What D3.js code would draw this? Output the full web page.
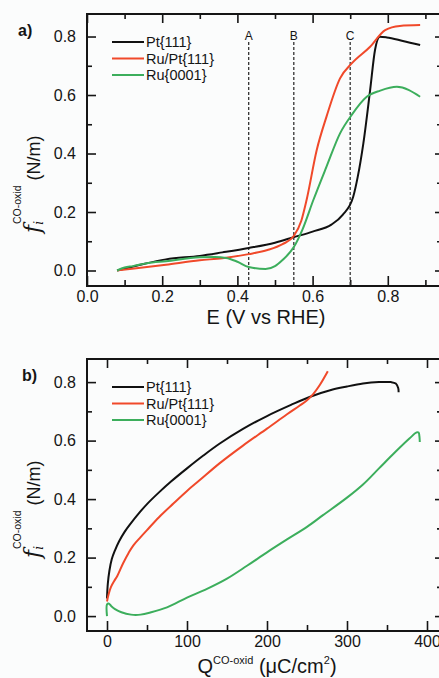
<!DOCTYPE html>
<html lang="en">
<head>
<meta charset="UTF-8">
<title>CO oxidation surface stress</title>
<script src="https://d3js.org/d3.v7.min.js"></script>
<style>
    *{margin:0;padding:0}
    body{background:#fbfcfc}
    text{font-family:"Liberation Sans",Arial,sans-serif;fill:#151515}
    .frame{fill:none;stroke:#151515;stroke-width:2}
    .tick line{stroke:#151515;stroke-width:1.6}
    .curve{fill:none;stroke-width:2;stroke-linejoin:round}
    .marker{stroke:#333;stroke-width:1.3;stroke-dasharray:3,2}
</style>
</head>
<body>
<svg id="fig" width="439" height="678"></svg>
<script>
    // legend
    var seriesNames = ['Pt{111}', 'Ru/Pt{111}', 'Ru{0001}'];
    var seriesColors = ['#111111', '#f0492a', '#3cae5c'];

    // a) stress vs potential, [E (V vs RHE), f (N/m)]
    var ptE = [[0.08,0.0],[0.1,0.006],[0.15,0.022],[0.21,0.038],[0.3,0.05],[0.36,0.062],[0.43,0.077],[0.5,0.095],
        [0.55,0.114],[0.6,0.133],[0.65,0.157],[0.68,0.19],[0.708,0.252],[0.72,0.32],[0.735,0.435],[0.753,0.617],
        [0.766,0.754],[0.779,0.799],[0.797,0.797],[0.84,0.785],[0.886,0.771]];
    var ruPtE = [[0.08,0.0],[0.12,0.006],[0.21,0.02],[0.3,0.035],[0.36,0.042],[0.43,0.056],[0.48,0.07],[0.52,0.09],
        [0.55,0.118],[0.57,0.17],[0.584,0.241],[0.611,0.412],[0.637,0.526],[0.673,0.657],[0.704,0.708],
        [0.753,0.765],[0.793,0.822],[0.832,0.836],[0.886,0.839]];
    var ruE = [[0.08,0.0],[0.1,0.01],[0.122,0.015],[0.16,0.025],[0.21,0.032],[0.3,0.045],[0.34,0.046],[0.37,0.043],
        [0.4,0.03],[0.43,0.012],[0.475,0.005],[0.5,0.015],[0.52,0.036],[0.55,0.08],[0.573,0.14],[0.602,0.241],
        [0.637,0.355],[0.673,0.469],[0.704,0.532],[0.744,0.594],[0.78,0.615],[0.824,0.628],[0.886,0.594]];
    var markerE = [0.43, 0.55, 0.70];
    var markerNames = ['A', 'B', 'C'];

    // b) stress vs charge, [Q (uC/cm2), f (N/m)]
    var ptQ = [[0,0.06],[1,0.11],[3,0.155],[6,0.195],[10,0.225],[15,0.255],[22,0.288],[30,0.318],[40,0.352],
        [50,0.383],[65,0.423],[80,0.46],[100,0.505],[120,0.548],[141,0.59],[170,0.64],[200,0.684],[230,0.722],
        [254,0.75],[280,0.773],[300,0.785],[320,0.795],[340,0.8],[355,0.8],[361,0.795],[364,0.78],[364.5,0.765]];
    var ruPtQ = [[0,0.05],[2,0.075],[5,0.1],[9,0.12],[13,0.138],[20,0.18],[27,0.216],[33,0.242],[42,0.27],
        [50,0.294],[65,0.338],[83,0.385],[100,0.428],[116,0.465],[141,0.523],[170,0.583],[200,0.641],[225,0.69],
        [241,0.72],[250,0.738],[258,0.76],[266,0.79],[276,0.837]];
    var ruQ = [[0,0.0],[0,0.04],[2,0.043],[5,0.035],[10,0.024],[18,0.013],[30,0.005],[42,0.005],[55,0.013],
        [75,0.03],[100,0.063],[125,0.093],[150,0.128],[175,0.172],[200,0.218],[225,0.262],[250,0.305],
        [270,0.345],[300,0.405],[320,0.45],[340,0.505],[360,0.56],[378,0.607],[387,0.628],[389.5,0.628],
        [390.5,0.615],[391,0.595]];

    var yMajor = [0, 0.2, 0.4, 0.6, 0.8];
    var yMinor = [0.1, 0.3, 0.5, 0.7];
    var eMajor = [0, 0.2, 0.4, 0.6, 0.8];
    var eMinor = [0.1, 0.3, 0.5, 0.7, 0.9];
    var qMajor = [0, 100, 200, 300, 400];
    var qMinor = [50, 150, 250, 350];

    var svg = d3.select('#fig');

    function drawPanel(p) {
        var g = svg.append('g');
        var x = d3.scaleLinear().domain(p.xDomain).range([p.left, p.right]);
        var y = d3.scaleLinear().domain(p.yDomain).range([p.bottom, p.top]);

        g.append('clipPath').attr('id', p.id + 'clip')
            .append('rect').attr('x', p.left).attr('y', p.top)
            .attr('width', p.right - p.left).attr('height', p.bottom - p.top);

        // ticks, all pointing inwards
        function ax(axis, scale, vals, size, labels, tx, ty, pad) {
            var a = axis(scale).tickValues(vals).tickSizeInner(-size).tickSizeOuter(0).tickPadding(pad);
            if (labels) a.tickFormat(labels); else a.tickFormat('');
            var s = g.append('g').attr('transform', 'translate(' + tx + ',' + ty + ')').call(a);
            s.select('.domain').remove();
            s.attr('font-size', 16).attr('font-family', null);
            return s;
        }
        ax(d3.axisBottom, x, p.xMajor, 10, p.xFormat, 0, p.bottom, 5);
        ax(d3.axisBottom, x, p.xMinor, 6, null, 0, p.bottom, 5);
        ax(d3.axisTop, x, p.xMajor, 9, null, 0, p.top, 5);
        ax(d3.axisTop, x, p.xMinor, 5, null, 0, p.top, 5);
        ax(d3.axisLeft, y, yMajor, 9, d3.format('.1f'), p.left, 0, 11);
        ax(d3.axisLeft, y, yMinor, 5, null, p.left, 0, 11);
        ax(d3.axisRight, y, yMajor, 6, null, p.right, 0, 5);
        ax(d3.axisRight, y, yMinor, 4, null, p.right, 0, 5);

        if (p.markers) {
            g.selectAll('.marker').data(p.markers).enter().append('line')
                .attr('class', 'marker')
                .attr('x1', function (d) { return x(d); }).attr('x2', function (d) { return x(d); })
                .attr('y1', p.top + 28).attr('y2', p.bottom);
            g.selectAll('.mlabel').data(p.markers).enter().append('text')
                .attr('x', function (d) { return x(d); }).attr('y', p.top + 26)
                .attr('text-anchor', 'middle').attr('font-size', 12)
                .text(function (d, i) { return markerNames[i]; });
        }

        var line = d3.line()
            .x(function (d) { return x(d[0]); })
            .y(function (d) { return y(d[1]); })
            .curve(p.curve);
        g.append('g').attr('clip-path', 'url(#' + p.id + 'clip)')
            .selectAll('path').data(p.series).enter().append('path')
            .attr('class', 'curve')
            .attr('stroke', function (d, i) { return seriesColors[i]; })
            .attr('d', line);

        // legend
        var lg = g.selectAll('.leg').data(seriesNames).enter().append('g')
            .attr('transform', function (d, i) { return 'translate(112,' + (p.top + 28 + i * 16.5) + ')'; });
        lg.append('line').attr('x1', 0).attr('x2', 32).attr('stroke-width', 2)
            .attr('stroke', function (d, i) { return seriesColors[i]; });
        lg.append('text').attr('x', 34).attr('y', 5).attr('font-size', 14.5).text(function (d) { return d; });

        g.append('rect').attr('class', 'frame')
            .attr('x', p.left).attr('y', p.top)
            .attr('width', p.right - p.left).attr('height', p.bottom - p.top);

        g.append('text').attr('x', p.tagX).attr('y', p.top + 22)
            .attr('font-size', 16).attr('font-weight', 'bold').text(p.tag);

        // y title, rotated
        var t = g.append('text').attr('transform', 'translate(40,' + p.yTitleStart + ') rotate(-90)');
        t.append('tspan').text('f').attr('font-family', 'DejaVu Serif, serif')
            .attr('font-style', 'italic').attr('font-size', 22);
        t.append('tspan').text('i').attr('font-family', 'DejaVu Serif, serif')
            .attr('font-style', 'italic').attr('font-size', 12).attr('dy', 3);
        t.append('tspan').text('CO-oxid').attr('font-size', 10.5).attr('dx', -3).attr('dy', -22);
        t.append('tspan').text(' (N/m)').attr('font-size', 18).attr('dy', 19);
    }

    drawPanel({
        id: 'a', tag: 'a)', tagX: 18, left: 87, right: 441, top: 14, bottom: 286,
        xDomain: [0, 0.9415], yDomain: [-0.053, 0.877],
        xMajor: eMajor, xMinor: eMinor, xFormat: d3.format('.1f'),
        series: [ptE, ruPtE, ruE], markers: markerE, yTitleStart: 233,
        curve: d3.curveMonotoneX
    });
    drawPanel({
        id: 'b', tag: 'b)', tagX: 22, left: 87, right: 441, top: 359, bottom: 631,
        xDomain: [-25, 417.5], yDomain: [-0.051, 0.879],
        xMajor: qMajor, xMinor: qMinor, xFormat: d3.format('d'),
        series: [ptQ, ruPtQ, ruQ], markers: null, yTitleStart: 558,
        curve: d3.curveCatmullRom.alpha(0.5)
    });

    // x titles
    svg.append('text').attr('x', 266).attr('y', 324).attr('text-anchor', 'middle')
        .attr('font-size', 20).text('E (V vs RHE)');
    var q = svg.append('text').attr('x', 267).attr('y', 673).attr('text-anchor', 'middle').attr('font-size', 20);
    q.append('tspan').text('Q');
    q.append('tspan').text('CO-oxid').attr('font-size', 11).attr('dy', -9);
    q.append('tspan').text(' (\u03bcC/cm').attr('dy', 9);
    q.append('tspan').text('2').attr('font-size', 11).attr('dy', -9);
    q.append('tspan').text(')').attr('dy', 9);
</script>
</body>
</html>
